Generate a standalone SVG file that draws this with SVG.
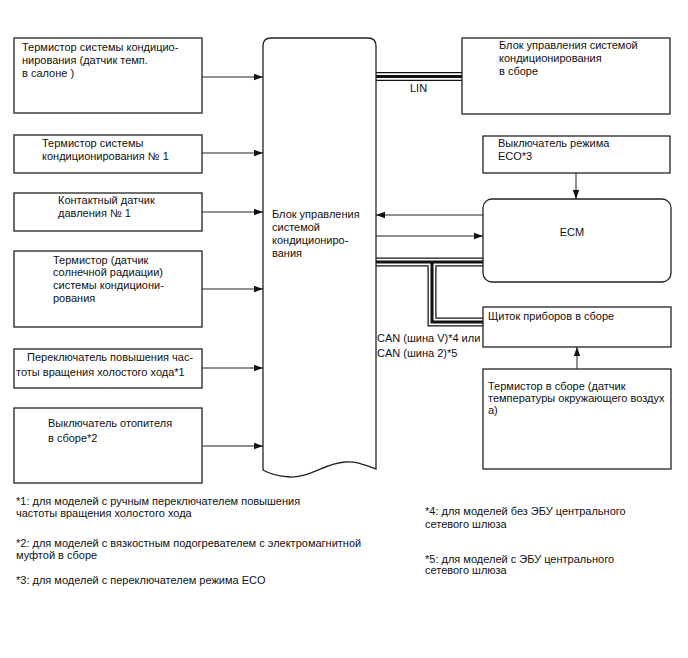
<svg xmlns="http://www.w3.org/2000/svg" width="688" height="658" viewBox="0 0 688 658">
<defs>
<marker id="ah" markerWidth="10" markerHeight="8" refX="9" refY="4" orient="auto" markerUnits="userSpaceOnUse">
<path d="M0,0.8 L9,4 L0,7.2 Z" fill="#111"/>
</marker>
<style>
text{font-family:"Liberation Sans",Arial,sans-serif;font-size:11px;fill:#111}
.box{fill:#fff;stroke:#222;stroke-width:1.3}
.ln{fill:none;stroke:#222;stroke-width:1}
.b1{fill:none;stroke:#111;stroke-width:9}
.b2{fill:none;stroke:#fff;stroke-width:6.5}
.b3{fill:none;stroke:#111;stroke-width:3}
</style>
</defs>
<rect width="688" height="658" fill="#fff"/>

<g id="connectors">
<line class="ln" x1="202" y1="77" x2="263" y2="77" marker-end="url(#ah)"/>
<line class="ln" x1="202" y1="153" x2="263" y2="153" marker-end="url(#ah)"/>
<line class="ln" x1="202" y1="212" x2="263" y2="212" marker-end="url(#ah)"/>
<line class="ln" x1="202" y1="289" x2="263" y2="289" marker-end="url(#ah)"/>
<line class="ln" x1="202" y1="368" x2="263" y2="368" marker-end="url(#ah)"/>
<line class="ln" x1="202" y1="446" x2="263" y2="446" marker-end="url(#ah)"/>
<line class="ln" x1="483" y1="215" x2="376" y2="215" marker-end="url(#ah)"/>
<line class="ln" x1="376" y1="236" x2="483" y2="236" marker-end="url(#ah)"/>
<line class="ln" x1="576" y1="173" x2="576" y2="199" marker-end="url(#ah)"/>
<line class="ln" x1="577" y1="369" x2="577" y2="347" marker-end="url(#ah)"/>
<g id="lin-bus">
<path class="b1" d="M376,76.5 H462"/>
<path class="b2" d="M376,76.5 H462"/>
<path class="b3" d="M376,76.5 H462"/>
</g>
<g id="can-bus">
<path class="b1" d="M376,262 H483 M432,262 V322 H483"/>
<path class="b2" d="M376,262 H483 M432,262 V322 H483"/>
<path class="b3" d="M376,262 H483 M432,262 V322 H483"/>
</g>
<text x="410" y="92">LIN</text>
<text x="377" y="341.5">CAN (шина V)*4 или</text>
<text x="377" y="356.5">CAN (шина 2)*5</text>
</g>

<g id="central">
<path class="box" d="M263,470 L263,46 Q263,38 271,38 L368,38 Q376,38 376,46 L376,469 C362,464 355,461 345,462 C325,463 310,478 290,477 C275,476 268,473 263,470 Z"/>
<text x="272" y="217.5">Блок управления</text>
<text x="272" y="230.5">системой</text>
<text x="272" y="244">кондициониро-</text>
<text x="272" y="257">вания</text>
</g>

<g id="n1">
<rect class="box" x="14" y="38" width="188" height="75"/>
<text x="22" y="50.5">Термистор системы кондицио-</text>
<text x="22" y="64">нирования (датчик темп.</text>
<text x="22" y="77">в салоне )</text>
</g>
<g id="n2">
<rect class="box" x="14" y="135" width="188" height="38"/>
<text x="42" y="146.5">Термистор системы</text>
<text x="42" y="159.5">кондиционирования № 1</text>
</g>
<g id="n3">
<rect class="box" x="14" y="193" width="188" height="38"/>
<text x="58" y="203.5">Контактный датчик</text>
<text x="58" y="216.5">давления № 1</text>
</g>
<g id="n4">
<rect class="box" x="14" y="251" width="188" height="76"/>
<text x="53" y="263.5">Термистор (датчик</text>
<text x="53" y="276">солнечной радиации)</text>
<text x="53" y="289">системы кондициони-</text>
<text x="53" y="301.5">рования</text>
</g>
<g id="n5">
<rect class="box" x="14" y="349" width="188" height="39"/>
<text x="27" y="360.5">Переключатель повышения час-</text>
<text x="16" y="375.5">тоты вращения холостого хода*1</text>
</g>
<g id="n6">
<rect class="box" x="14" y="408" width="188" height="75"/>
<text x="48" y="426.5">Выключатель отопителя</text>
<text x="48" y="441.5">в сборе*2</text>
</g>

<g id="ac-unit">
<rect class="box" x="462" y="38" width="208" height="76"/>
<text x="499" y="48.5">Блок управления системой</text>
<text x="499" y="61.5">кондиционирования</text>
<text x="499" y="75">в сборе</text>
</g>
<g id="eco">
<rect class="box" x="483" y="136" width="187" height="37"/>
<text x="498" y="146.5">Выключатель режима</text>
<text x="498" y="159.5">ECO*3</text>
</g>
<g id="ecm">
<rect class="box" x="483" y="199" width="188" height="83" rx="9" ry="9"/>
<text x="572" y="235.5" text-anchor="middle">ECM</text>
</g>
<g id="cluster">
<rect class="box" x="483" y="307" width="188" height="40"/>
<text x="488" y="319.5">Щиток приборов в сборе</text>
</g>
<g id="ambient">
<rect class="box" x="483" y="369" width="188" height="100"/>
<text x="488" y="390">Термистор в сборе (датчик</text>
<text x="488" y="402">температуры окружающего воздух</text>
<text x="488" y="413.5">а)</text>
</g>

<g id="notes">
<text x="16" y="505">*1: для моделей с ручным переключателем повышения</text>
<text x="16" y="517">частоты вращения холостого хода</text>
<text x="16" y="547">*2: для моделей с вязкостным подогревателем с электромагнитной</text>
<text x="16" y="558.5">муфтой в сборе</text>
<text x="16" y="583.5">*3: для моделей с переключателем режима ECO</text>
<text x="425" y="515">*4: для моделей без ЭБУ центрального</text>
<text x="425" y="528">сетевого шлюза</text>
<text x="425" y="562.5">*5: для моделей с ЭБУ центрального</text>
<text x="425" y="574">сетевого шлюза</text>
</g>
</svg>
